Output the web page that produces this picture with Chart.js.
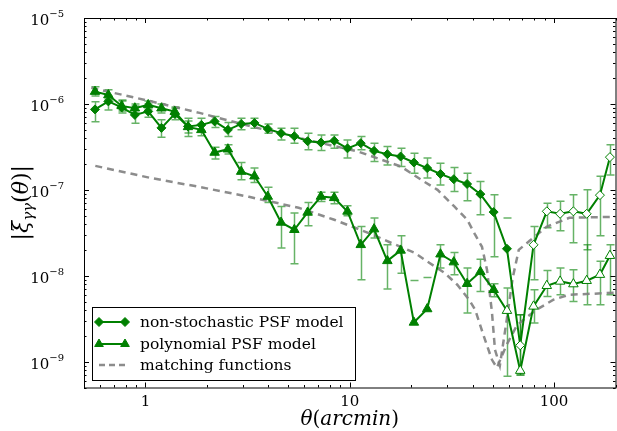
<!DOCTYPE html>
<html>
<head>
<meta charset="utf-8">
<script src="https://cdn.jsdelivr.net/npm/chart.js@4.4.1/dist/chart.umd.min.js"></script>
<style>
  html, body { margin: 0; padding: 0; background: #fff; overflow: hidden; }
  #wrap { width: 622px; height: 431px; }
</style>
</head>
<body>
<div id="wrap"><canvas id="c" width="622" height="431"></canvas></div>
<script>
// ---- data ----
const theta = [0.566, 0.658, 0.764, 0.887, 1.031, 1.197, 1.391, 1.615, 1.877, 2.180,
  2.532, 2.941, 3.416, 3.968, 4.609, 5.354, 6.219, 7.224, 8.390, 9.748,
  11.32, 13.15, 15.28, 17.75, 20.61, 23.94, 27.81, 32.31, 37.53, 43.60,
  50.64, 58.83, 68.33, 79.38, 92.18, 107.1, 124.4, 144.5, 167.8, 187.8];

const nonStoch = [8.63e-7, 1.07e-6, 9.10e-7, 7.45e-7, 8.18e-7, 5.26e-7, 7.65e-7, 5.47e-7, 5.70e-7, 6.26e-7,
  4.99e-7, 5.85e-7, 6.01e-7, 5.12e-7, 4.56e-7, 4.21e-7, 3.68e-7, 3.55e-7, 3.72e-7, 3.04e-7,
  3.49e-7, 2.84e-7, 2.60e-7, 2.44e-7, 2.08e-7, 1.79e-7, 1.53e-7, 1.33e-7, 1.17e-7, 8.91e-8,
  5.51e-8, 2.06e-8, 1.55e-9, 2.29e-8, 5.62e-8, 5.26e-8, 5.62e-8, 5.26e-8, 8.67e-8, 2.40e-7];
const nonStochHi = [1.06e-6, 1.24e-6, 1.11e-6, 9.48e-7, 1.0e-6, 6.52e-7, 8.91e-7, 6.82e-7, 6.82e-7, 7.12e-7,
  6.06e-7, 6.82e-7, 6.82e-7, 5.85e-7, 5.22e-7, 5.22e-7, 4.56e-7, 4.36e-7, 4.36e-7, 3.81e-7,
  4.17e-7, 3.49e-7, 3.19e-7, 3.05e-7, 2.67e-7, 2.34e-7, 2.04e-7, 1.82e-7, 1.56e-7, 1.25e-7,
  8.75e-8, 4.69e-8, 3.52e-9, 3.74e-8, 7.00e-8, 7.35e-8, 8.75e-8, 1.0e-7, 1.44e-7, 3.34e-7];
// null: lower end not positive, only the upper cap shows
const nonStochLo = [6.22e-7, 8.51e-7, 7.86e-7, 5.97e-7, 7.00e-7, 4.10e-7, 6.52e-7, 4.17e-7, 4.85e-7, 5.30e-7,
  4.17e-7, 4.99e-7, 5.22e-7, 4.56e-7, 3.81e-7, 3.49e-7, 2.92e-7, 2.86e-7, 3.05e-7, 2.34e-7,
  2.92e-7, 2.13e-7, 1.95e-7, 1.87e-7, 1.56e-7, 1.37e-7, 1.14e-7, 9.55e-8, 7.45e-8, 5.12e-8,
  1.66e-8, null, 7.0e-10, 8.98e-9, 3.61e-8, 3.34e-8, 2.42e-8, 2.0e-8, 2.92e-8, 1.49e-7];
const nonStochOpen = [32, 33, 34, 35, 36, 37, 38, 39];

const poly = [1.39e-6, 1.27e-6, 9.48e-7, 8.91e-7, 9.74e-7, 8.91e-7, 8.13e-7, 5.40e-7, 4.99e-7, 2.72e-7,
  2.97e-7, 1.63e-7, 1.44e-7, 8.36e-8, 4.17e-8, 3.43e-8, 5.45e-8, 8.36e-8, 8.07e-8, 5.60e-8,
  2.29e-8, 3.49e-8, 1.49e-8, 1.97e-8, 2.86e-9, 4.10e-9, 1.78e-8, 1.44e-8, 8.07e-9, 1.11e-8,
  6.87e-9, 3.92e-9, 7.86e-10, 4.40e-9, 7.65e-9, 8.59e-9, 8.00e-9, 8.75e-9, 1.03e-8, 1.71e-8];
const polyHi = [1.58e-6, 1.46e-6, 1.08e-6, 1.0e-6, 1.08e-6, 1.0e-6, 9.23e-7, 6.34e-7, 5.85e-7, 3.14e-7,
  3.34e-7, 2.08e-7, 1.79e-7, 1.07e-7, 6.40e-8, 5.36e-8, 7.12e-8, 9.40e-8, 9.40e-8, 6.52e-8,
  3.74e-8, 4.69e-8, 2.29e-8, 2.92e-8, 8.82e-9, 9.55e-9, 2.29e-8, 1.87e-8, 1.23e-8, 1.56e-8,
  8.07e-9, 7.19e-9, 3.52e-9, 6.87e-9, 1.15e-8, 1.23e-8, 1.17e-8, 2.29e-8, 1.47e-8, 2.29e-8];
const polyLo = [1.24e-6, 1.14e-6, 8.29e-7, 7.86e-7, 8.75e-7, 7.86e-7, 7.06e-7, 4.60e-7, 4.25e-7, 2.28e-7,
  2.62e-7, 1.31e-7, 1.22e-7, 7.12e-8, 2.10e-8, 1.38e-8, 3.81e-8, 7.31e-8, 6.87e-8, 4.99e-8,
  8.98e-9, 2.74e-8, 7.0e-9, 1.07e-8, null, null, 1.23e-8, 1.03e-8, 3.68e-9, 6.56e-9,
  5.70e-9, 6.75e-10, 7.0e-10, 2.82e-9, 5.74e-9, 6.01e-9, 5.02e-9, 4.60e-9, 4.60e-9, 6.01e-9];
const polyOpen = [31, 32, 33, 34, 35, 36, 37, 38, 39];

// matching functions
const matchThetaA = [0.543, 1.05, 1.84, 3.21, 5.62, 10.99, 17.77, 23.2, 26.9, 32.5, 37.6, 41.1,
  44.4, 47.0, 49.7, 51.4, 54.3, 58.7, 62.8, 67.2, 76.0, 91.9, 118.8, 200];
const matchA = [1.54e-6, 1.08e-6, 7.86e-7, 5.55e-7, 4.02e-7, 2.79e-7, 1.87e-7, 1.24e-7, 1.0e-7, 6.40e-8, 4.48e-8, 3.0e-8,
  2.17e-8, 1.17e-8, 3.72e-9, 1.38e-9, 8.98e-10, 3.08e-9, 9.48e-9, 2.0e-8, 2.55e-8, 3.71e-8, 4.72e-8, 4.85e-8];
const matchThetaB = [0.568, 1.05, 1.84, 3.21, 5.62, 8.40, 12.3, 15.9, 20.8, 24.0, 29.1, 33.6,
  38.4, 41.1, 45.4, 49.7, 52.5, 58.7, 65.7, 71.0, 82.2, 99.4, 118.8, 200];
const matchB = [1.90e-7, 1.38e-7, 1.08e-7, 8.29e-8, 6.18e-8, 4.48e-8, 3.16e-8, 2.42e-8, 1.85e-8, 1.46e-8, 1.08e-8, 7.86e-9,
  5.26e-9, 4.03e-9, 1.95e-9, 1.05e-9, 8.51e-10, 1.58e-9, 2.62e-9, 3.08e-9, 4.03e-9, 5.26e-9, 6.01e-9, 6.34e-9];

const xTickLabels = ['1', '10', '100'];
const yTickExps = [-9, -8, -7, -6, -5];
const legendLabels = ['non-stochastic PSF model', 'polynomial PSF model', 'matching functions'];

// ---- styles ----
const GREEN = '#008000';
const ERR = 'rgba(0,128,0,0.6)';
const DASH = 'rgba(128,128,128,0.9)';
const SERIF = '"DejaVu Serif", serif';

const pts = (xs, ys) => xs.map((t, i) => ({ x: t, y: ys[i] }));
const fills = (open) => theta.map((t, i) => open.includes(i) ? '#fff' : GREEN);

// error bars, drawn under the lines
const errSets = [
  { hi: nonStochHi, lo: nonStochLo },
  { hi: polyHi, lo: polyLo }
];
const errorBars = {
  id: 'errorBars',
  beforeDatasetsDraw(chart) {
    const { ctx, chartArea: a, scales: { x, y } } = chart;
    ctx.save();
    ctx.beginPath();
    ctx.rect(a.left, a.top, a.right - a.left, a.bottom - a.top);
    ctx.clip();
    ctx.strokeStyle = ERR;
    ctx.lineWidth = 1.5;
    const cap = 4;
    errSets.forEach(s => {
      theta.forEach((t, i) => {
        const px = Math.round(x.getPixelForValue(t)) + 0.5;
        const top = y.getPixelForValue(s.hi[i]);
        ctx.beginPath();
        ctx.moveTo(px - cap, top); ctx.lineTo(px + cap, top);
        if (s.lo[i] != null) {
          const bot = y.getPixelForValue(s.lo[i]);
          ctx.moveTo(px, top); ctx.lineTo(px, bot);
          ctx.moveTo(px - cap, bot); ctx.lineTo(px + cap, bot);
        }
        ctx.stroke();
      });
    });
    ctx.restore();
  }
};

// frame, inward ticks on all four sides, tick labels, titles, legend
const decor = {
  id: 'decor',
  afterDraw(chart) {
    const { ctx, chartArea: a, scales: { x, y } } = chart;
    ctx.save();
    ctx.strokeStyle = '#000';
    ctx.lineWidth = 1;
    ctx.strokeRect(a.left + 0.5, a.top + 0.5, a.right - a.left, a.bottom - a.top);

    const tick = (p, len, horiz) => {
      ctx.beginPath();
      if (horiz) {
        ctx.moveTo(p, a.bottom); ctx.lineTo(p, a.bottom - len);
        ctx.moveTo(p, a.top); ctx.lineTo(p, a.top + len);
      } else {
        ctx.moveTo(a.left, p); ctx.lineTo(a.left + len, p);
        ctx.moveTo(a.right, p); ctx.lineTo(a.right - len, p);
      }
      ctx.stroke();
    };
    for (let e = -1; e <= 2; e++) {
      for (let m = 1; m <= 9; m++) {
        const v = m * Math.pow(10, e);
        if (v < 0.5 || v > 200) continue;
        tick(Math.round(x.getPixelForValue(v)) + 0.5, m === 1 ? 5 : 2.5, true);
      }
    }
    for (let e = -10; e <= -5; e++) {
      for (let m = 1; m <= 9; m++) {
        const v = m * Math.pow(10, e);
        if (v < 5e-10 || v > 1e-5) continue;
        tick(Math.round(y.getPixelForValue(v)) + 0.5, m === 1 ? 5 : 2.5, false);
      }
    }

    ctx.fillStyle = '#000';
    ctx.textBaseline = 'alphabetic';
    // x tick labels
    ctx.font = '15px ' + SERIF;
    ctx.textAlign = 'center';
    xTickLabels.forEach(l => {
      ctx.fillText(l, x.getPixelForValue(Number(l)), 406);
    });
    // y tick labels 10^n
    ctx.textAlign = 'left';
    yTickExps.forEach(n => {
      const py = y.getPixelForValue(Math.pow(10, n));
      const ex = '\u2212' + Math.abs(n);
      ctx.font = '10px ' + SERIF;
      const wE = ctx.measureText(ex).width;
      ctx.font = '15px ' + SERIF;
      const wB = ctx.measureText('10').width;
      const end = 64;
      ctx.fillText('10', end - wE - wB, py + 7);
      ctx.font = '10px ' + SERIF;
      ctx.fillText(ex, end - wE, py - 1);
    });

    // x title: θ(arcmin)
    const pieces = (list) => {
      let w = 0;
      list.forEach(p => { ctx.font = p.f; p.w = ctx.measureText(p.t).width; w += p.w; });
      return w;
    };
    const it = 'italic 20px ' + SERIF, up = '20px ' + SERIF;
    const xt = [{ t: '\u03b8', f: it }, { t: '(', f: up }, { t: 'arcmin', f: it }, { t: ')', f: up }];
    let w = pieces(xt);
    let cx = (a.left + a.right) / 2 - w / 2;
    xt.forEach(p => { ctx.font = p.f; ctx.fillText(p.t, cx, 425); cx += p.w; });

    // y title: |ξγγ(θ)|
    const yi = 'italic 22px ' + SERIF, yu = '22px ' + SERIF, ys = 'italic 15px ' + SERIF;
    const yt = [{ t: '|', f: yu }, { t: '\u03be', f: yi }, { t: '\u03b3\u03b3', f: ys, d: 5 },
      { t: '(', f: yu }, { t: '\u03b8', f: yi }, { t: ')', f: yu }, { t: '|', f: yu }];
    w = pieces(yt);
    ctx.save();
    ctx.translate(28, (a.top + a.bottom) / 2);
    ctx.rotate(-Math.PI / 2);
    cx = -w / 2;
    yt.forEach(p => { ctx.font = p.f; ctx.fillText(p.t, cx, p.d || 0); cx += p.w; });
    ctx.restore();

    // legend
    const lx = 92, ly = 307, lw = 263, lh = 73;
    ctx.fillStyle = '#fff';
    ctx.fillRect(lx, ly, lw, lh);
    ctx.strokeStyle = '#000';
    ctx.lineWidth = 1;
    ctx.strokeRect(lx + 0.5, ly + 0.5, lw, lh);
    const rows = [322, 344, 365];
    const styles = ['rectRot', 'triangle', null];
    rows.forEach((ry, i) => {
      ctx.save();
      ctx.beginPath();
      ctx.moveTo(99, ry); ctx.lineTo(125, ry);
      if (styles[i]) {
        ctx.strokeStyle = GREEN; ctx.lineWidth = 2;
      } else {
        ctx.strokeStyle = DASH; ctx.lineWidth = 2.5; ctx.setLineDash([6, 4]);
      }
      ctx.stroke();
      ctx.restore();
      if (styles[i]) {
        ctx.fillStyle = GREEN; ctx.strokeStyle = GREEN;
        const o = { pointStyle: styles[i], radius: i === 0 ? 4.5 : 5, borderWidth: 1, rotation: 0 };
        Chart.helpers.drawPoint(ctx, o, 99, ry);
        Chart.helpers.drawPoint(ctx, o, 125, ry);
      }
      ctx.fillStyle = '#000';
      ctx.font = '15.5px ' + SERIF;
      ctx.textAlign = 'left';
      ctx.fillText(legendLabels[i], 140, ry + 5);
    });
    ctx.restore();
  }
};

new Chart(document.getElementById('c'), {
  type: 'line',
  data: {
    datasets: [
      {
        label: legendLabels[0],
        data: pts(theta, nonStoch),
        borderColor: GREEN, borderWidth: 2,
        pointStyle: 'rectRot', pointRadius: 4.5, pointBorderWidth: 1,
        pointBorderColor: GREEN, pointBackgroundColor: fills(nonStochOpen)
      },
      {
        label: legendLabels[1],
        data: pts(theta, poly),
        borderColor: GREEN, borderWidth: 2,
        pointStyle: 'triangle', pointRadius: 5.5, pointBorderWidth: 1,
        pointBorderColor: GREEN, pointBackgroundColor: fills(polyOpen)
      },
      {
        label: legendLabels[2],
        data: pts(matchThetaA, matchA),
        borderColor: DASH, borderWidth: 2.5, borderDash: [7, 5], pointRadius: 0
      },
      {
        label: legendLabels[2],
        data: pts(matchThetaB, matchB),
        borderColor: DASH, borderWidth: 2.5, borderDash: [7, 5], pointRadius: 0
      }
    ]
  },
  options: {
    responsive: false,
    animation: false,
    devicePixelRatio: 1,
    layout: { padding: { top: 18, right: 2, left: 0, bottom: 0 } },
    plugins: { legend: { display: false }, tooltip: { enabled: false } },
    scales: {
      x: {
        type: 'logarithmic', min: 0.5, max: 200,
        ticks: { display: false }, grid: { display: false }, border: { display: false },
        afterFit(s) { s.height = 43.5; }
      },
      y: {
        type: 'logarithmic', min: 5e-10, max: 1e-5,
        ticks: { display: false }, grid: { display: false }, border: { display: false },
        afterFit(s) { s.width = 84; }
      }
    }
  },
  plugins: [errorBars, decor]
});
</script>
</body>
</html>
